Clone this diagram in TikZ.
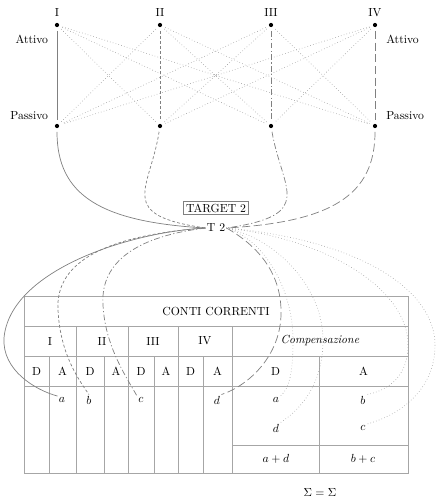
\documentclass[tikz,border=0pt]{standalone}
\usetikzlibrary{positioning}

\begin{document}
\begin{tikzpicture}[x=0.3mm, y=-0.3mm,
  dotnode/.style={circle, fill=black, inner sep=0pt, minimum size=3.6pt},
  lab/.style={inner sep=1pt},
  tbox/.style={draw=black!50, inner sep=2pt},
  tabline/.style={draw=black!35, line width=0.5pt},
  wI/.style={draw=black!50, line width=0.6pt},
  wII/.style={wI, dash pattern=on 2.5pt off 1.8pt},
  wIII/.style={wI, dash pattern=on 5pt off 2pt on 1pt off 2pt},
  wIV/.style={wI, dash pattern=on 7pt off 3pt},
  xlink/.style={draw=black!40, dotted, line width=0.5pt},
  vert/.style={shorten >=3pt, shorten <=3pt}
]
\useasboundingbox (0,0) rectangle (439,499);

% banks: attivo / passivo
\foreach \n/\x/\r in {1/57/I,2/160/II,3/271/III,4/375/IV}{
  \node[dotnode] (A\n) at (\x,25) {};
  \node[dotnode] (P\n) at (\x,126) {};
  \node[lab, above=4pt of A\n] (top\n) {\r};
}
\node[lab, below left=6pt and 5pt of A1] (attL) {Attivo};
\node[lab, above left=3pt and 5pt of P1] (pasL) {Passivo};
\node[lab, below right=6pt and 7pt of A4] (attR) {Attivo};
\node[lab, above right=3pt and 7pt of P4] (pasR) {Passivo};

\foreach \i in {1,...,4}
  \foreach \j in {1,...,4}{
    \ifnum\i=\j\else \draw[xlink, vert] (A\i) -- (P\j);\fi
  }
\draw[wI, vert] (A1) -- (P1);
\draw[wII, vert] (A2) -- (P2);
\draw[wIII, vert] (A3) -- (P3);
\draw[wIV, vert] (A4) -- (P4);

% target 2
\node[tbox] (tgt) at (216,208) {TARGET 2};
\node[lab] (t2) at (216,228) {T 2};

\draw[wI, shorten <=3pt] (P1) .. controls (57,195) and (100,222) .. (t2.west);
\draw[wII, shorten <=3pt] (P2) .. controls (150,190) and (115,215) .. (t2.west);
\draw[wIII, shorten <=3pt] (P3) .. controls (282,190) and (317,215) .. (t2.east);
\draw[wIV, shorten <=3pt] (P4) .. controls (375,195) and (332,222) .. (t2.east);

% table
\draw[tabline] (24,296) rectangle (408,473);
\draw[tabline] (24,326) -- (408,326) (24,356) -- (408,356)
  (24,386) -- (408,386) (232,445) -- (408,445);
\foreach \x in {76,128,178,232} \draw[tabline] (\x,326) -- (\x,473);
\foreach \x in {49,104,154,203,319} \draw[tabline] (\x,356) -- (\x,473);

\node (hdr) at (216,311) {CONTI CORRENTI};
\foreach \n/\x/\r in {1/50/I,2/102/II,3/153/III,4/205/IV}
  \node (acc\n) at (\x,341) {\r};
\node (comp) at (320,341) {\textit{Compensazione}};
\foreach \x/\t [count=\k] in {36.5/D,62.5/A,90/D,116/A,141/D,166/A,190.5/D,217.5/A,275.5/D,363.5/A}
  \node (da\k) at (\x,371) {\t};

\node[lab] (la) at (62,400) {$a$};
\node[lab] (lb) at (89,400) {$b$};
\node[lab] (lc) at (141,400) {$c$};
\node[lab] (ld) at (217,400) {$d$};
\node[lab] (ra) at (276,400) {$a$};
\node[lab] (rb) at (363,400) {$b$};
\node[lab] (rd) at (276,428) {$d$};
\node[lab] (rc) at (363,428) {$c$};
\node (sd) at (276,459) {$a+d$};
\node (sa) at (363,459) {$b+c$};
\node (sig) at (320,492) {$\Sigma=\Sigma$};

% flows to the accounts
\draw[wI] (t2.west) .. controls (130,232) and (10,270) .. (4,338)
  .. controls (2,370) and (35,390) .. (la.north west);
\draw[wII] (t2.west) .. controls (110,235) and (55,260) .. (58,310)
  .. controls (60,350) and (75,375) .. (lb.north);
\draw[wIII] (t2.west) .. controls (140,236) and (100,260) .. (103,305)
  .. controls (105,345) and (125,375) .. (lc.north west);
\draw[wIV] (t2.east) .. controls (265,250) and (282,280) .. (281,315)
  .. controls (280,355) and (250,385) .. (ld.north east);

\draw[xlink] (t2.east) .. controls (265,240) and (293,290) .. (293,340)
  .. controls (293,370) and (290,388) .. (ra.north east);
\draw[xlink] (t2.east) .. controls (280,240) and (323,290) .. (323,340)
  .. controls (323,385) and (300,410) .. (rd.north east);
\draw[xlink] (t2.east) .. controls (330,240) and (408,290) .. (408,345)
  .. controls (408,375) and (390,390) .. (rb.north east);
\draw[xlink] (t2.east) .. controls (360,240) and (435,290) .. (435,345)
  .. controls (435,390) and (400,415) .. (rc.north east);
\end{tikzpicture}
\end{document}
